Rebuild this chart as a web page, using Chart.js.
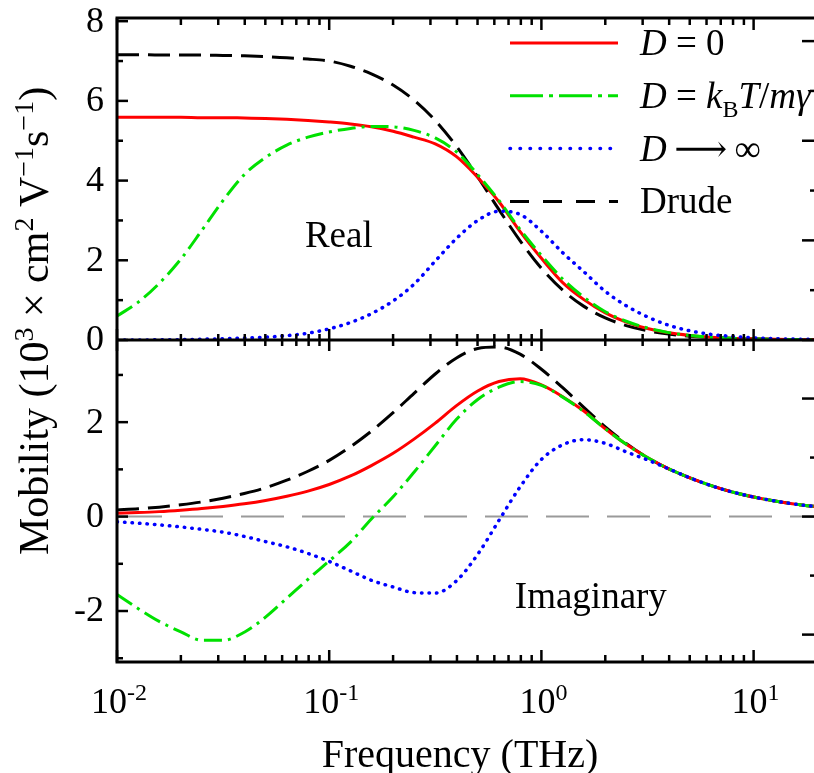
<!DOCTYPE html>
<html>
<head>
<meta charset="utf-8">
<title>Mobility spectra</title>
<script src="https://cdn.jsdelivr.net/npm/chart.js@4.4.1/dist/chart.umd.min.js"></script>
<style>
  html, body { margin: 0; padding: 0; background: #fff; overflow: hidden; }
  #wrap { width: 814px; height: 773px; overflow: hidden; position: relative; }
  canvas { display: block; }
  .fontwarm { position: absolute; left: -999px; top: 0; font-family: "Liberation Serif", "DejaVu Serif", serif; }
</style>
</head>
<body>
<div id="wrap"><canvas id="mobChart" width="832" height="773"></canvas></div>
<span class="fontwarm">Mobility <i>D</i> ⟶ ∞ γ</span>
<script>
// frequency grid (THz)
const freq = [0.01, 0.0126, 0.0158, 0.02, 0.0251, 0.0316, 0.0398, 0.0501, 0.0631, 0.0794,
  0.1, 0.126, 0.158, 0.2, 0.251, 0.316, 0.398, 0.501, 0.631, 0.794,
  1, 1.26, 1.58, 2, 2.51, 3.16, 3.98, 5.01, 6.31, 7.94,
  10, 12.6, 15.8, 20];

// real part (10^3 cm^2/Vs)
const realD0 = [5.59, 5.59, 5.59, 5.59, 5.58, 5.58, 5.57, 5.56, 5.54, 5.51,
  5.47, 5.42, 5.35, 5.24, 5.09, 4.92, 4.60, 4.08, 3.47, 2.72,
  2.05, 1.44, 1.02, 0.68, 0.45, 0.29, 0.18, 0.115, 0.072, 0.045,
  0.029, 0.018, 0.012, 0.007];
const realDk = [0.60, 0.95, 1.42, 2.03, 2.75, 3.50, 4.15, 4.58, 4.89, 5.09,
  5.22, 5.31, 5.36, 5.35, 5.26, 5.07, 4.72, 4.15, 3.50, 2.77,
  2.12, 1.53, 1.08, 0.71, 0.47, 0.30, 0.185, 0.115, 0.072, 0.045,
  0.029, 0.018, 0.012, 0.007];
const realInf = [0.0, 0.0, 0.005, 0.01, 0.02, 0.03, 0.05, 0.07, 0.11, 0.17,
  0.28, 0.44, 0.66, 0.98, 1.40, 1.98, 2.55, 3.00, 3.23, 3.15,
  2.73, 2.19, 1.72, 1.22, 0.86, 0.58, 0.37, 0.23, 0.14, 0.09,
  0.055, 0.035, 0.022, 0.014];
const realDrude = [7.16, 7.16, 7.15, 7.15, 7.15, 7.14, 7.13, 7.11, 7.08, 7.05,
  7.00, 6.87, 6.68, 6.40, 6.02, 5.51, 4.86, 4.09, 3.27, 2.49,
  1.80, 1.25, 0.85, 0.555, 0.362, 0.233, 0.149, 0.095, 0.060, 0.038,
  0.024, 0.015, 0.0096, 0.006];

// imaginary part
const imagD0 = [0.07, 0.085, 0.105, 0.135, 0.17, 0.215, 0.27, 0.34, 0.43, 0.54,
  0.68, 0.86, 1.08, 1.34, 1.64, 1.98, 2.35, 2.66, 2.86, 2.92,
  2.79, 2.54, 2.24, 1.86, 1.53, 1.25, 1.01, 0.82, 0.655, 0.52,
  0.415, 0.33, 0.262, 0.207];
const imagDk = [-1.65, -1.95, -2.22, -2.44, -2.62, -2.62, -2.45, -2.13, -1.73, -1.33,
  -0.94, -0.54, -0.05, 0.42, 0.94, 1.50, 2.06, 2.48, 2.74, 2.86,
  2.78, 2.53, 2.23, 1.86, 1.53, 1.25, 1.01, 0.82, 0.655, 0.52,
  0.415, 0.33, 0.262, 0.207];
const imagInf = [-0.11, -0.14, -0.175, -0.22, -0.27, -0.33, -0.42, -0.53, -0.64, -0.78,
  -0.95, -1.15, -1.35, -1.49, -1.61, -1.62, -1.36, -0.80, -0.08, 0.63,
  1.21, 1.52, 1.63, 1.55, 1.37, 1.20, 1.01, 0.82, 0.655, 0.52,
  0.415, 0.33, 0.262, 0.207];
const imagDrude = [0.14, 0.165, 0.2, 0.25, 0.31, 0.39, 0.49, 0.61, 0.77, 0.96,
  1.19, 1.48, 1.81, 2.20, 2.61, 3.02, 3.36, 3.56, 3.59, 3.44,
  3.12, 2.73, 2.32, 1.90, 1.55, 1.25, 1.01, 0.82, 0.655, 0.52,
  0.415, 0.33, 0.262, 0.207];

// axis ticks and labels
const decades = [0.01, 0.1, 1, 10];
const decadeExp = ['-2', '-1', '0', '1'];
const realTicks = [0, 2, 4, 6, 8];
const imagTicks = [-2, 0, 2];

const SERIF = '"Liberation Serif", "DejaVu Serif", serif';

const styles = {
  red:   { color: 'rgb(255,0,0)',  width: 3,   dash: [],            cap: 'butt',  legendDash: [] },
  green: { color: 'rgb(0,225,0)',  width: 3,   dash: [18, 6, 3, 6], cap: 'butt',  legendDash: [33, 6, 4, 6] },
  blue:  { color: 'rgb(0,0,255)',  width: 3.5, dash: [0.5, 7],      cap: 'round', legendDash: [0.5, 9.5] },
  black: { color: 'rgb(0,0,0)',    width: 3,   dash: [22, 9],       cap: 'butt',  legendDash: [19, 14] }
};

function pts(ys) {
  return freq.map((f, i) => ({ x: f, y: ys[i] }));
}

function line(label, ys, axis, st) {
  return {
    label: label,
    data: pts(ys),
    yAxisID: axis,
    borderColor: st.color,
    borderWidth: st.width,
    borderDash: st.dash,
    borderCapStyle: st.cap,
    pointRadius: 0,
    cubicInterpolationMode: 'monotone',
    fill: false
  };
}

// draws a run of text pieces: [text, kind] with kind r / i / sup / sub
function drawRich(ctx, parts, x, y, size, align) {
  const fontFor = (k) => {
    const small = (k === 'sup' || k === 'sub');
    return (k === 'i' ? 'italic ' : '') + (small ? Math.round(size * 0.66) : size) + 'px ' + SERIF;
  };
  let w = 0;
  parts.forEach(([t, k]) => { ctx.font = fontFor(k); w += ctx.measureText(t).width; });
  let cx = align === 'center' ? x - w / 2 : (align === 'right' ? x - w : x);
  ctx.textAlign = 'left';
  ctx.textBaseline = 'alphabetic';
  parts.forEach(([t, k]) => {
    ctx.font = fontFor(k);
    const dy = k === 'sup' ? -size * 0.36 : (k === 'sub' ? size * 0.26 : 0);
    ctx.fillText(t, cx, y + dy);
    cx += ctx.measureText(t).width;
  });
}

const legendRows = [
  { st: styles.red,   parts: [['D', 'i'], [' = ', 'r'], ['0', 'r']] },
  { st: styles.green, parts: [['D', 'i'], [' = ', 'r'], ['k', 'i'], ['B', 'sub'], ['T', 'i'], ['/', 'r'], ['m', 'i'], ['γ', 'i']] },
  { st: styles.blue,  parts: [['D', 'i'], ['\u2009⟶\u2009', 'r'], ['∞', 'r']] },
  { st: styles.black, parts: [['Drude', 'r']] }
];

const panelFrame = {
  id: 'panelFrame',
  beforeDatasetsDraw(chart) {
    const { ctx, chartArea: a } = chart;
    const y0 = chart.scales.yBot.getPixelForValue(0);
    ctx.save();
    ctx.strokeStyle = '#9a9a9a';
    ctx.lineWidth = 2;
    ctx.setLineDash([43, 18]);
    ctx.beginPath();
    ctx.moveTo(a.left + 2, y0);
    ctx.lineTo(a.right, y0);
    ctx.stroke();
    ctx.restore();
  },
  afterDraw(chart) {
    const { ctx, chartArea: a } = chart;
    const xs = chart.scales.x, yt = chart.scales.yTop, yb = chart.scales.yBot;
    const mid = yt.bottom;
    const seg = (x1, y1, x2, y2) => { ctx.beginPath(); ctx.moveTo(x1, y1); ctx.lineTo(x2, y2); ctx.stroke(); };

    ctx.save();
    ctx.strokeStyle = '#000';
    ctx.fillStyle = '#000';
    ctx.lineCap = 'butt';

    // frame of both panels
    ctx.lineWidth = 3;
    ctx.strokeRect(a.left, a.top, a.right - a.left, a.bottom - a.top);
    seg(a.left, mid, a.right, mid);

    // log ticks along x: top, shared middle, bottom
    ctx.lineWidth = 2.5;
    decades.forEach((d) => {
      for (let k = 1; k <= 9; k++) {
        const v = d * k;
        if (v < xs.min || v > xs.max) continue;
        const px = xs.getPixelForValue(v);
        const len = k === 1 ? 12 : 7;
        seg(px, a.top, px, a.top + len);
        seg(px, mid - len + 1, px, mid + len - 1);
        seg(px, a.bottom, px, a.bottom - len);
      }
    });

    // y ticks, left side (inward)
    for (let v = 0; v <= 8; v++) {
      const py = yt.getPixelForValue(v);
      seg(a.left, py, a.left + (v % 2 === 0 ? 11 : 6), py);
    }
    for (let v = -3; v <= 3; v++) {
      const py = yb.getPixelForValue(v);
      seg(a.left, py, a.left + (v % 2 === 0 ? 11 : 6), py);
    }
    // y ticks, right side (inward)
    for (let k = 0; k <= 6; k++) {
      const py = yt.getPixelForValue(k * 1.25);
      seg(a.right, py, a.right - (k % 2 === 0 ? 14 : 6), py);
    }
    for (let k = -2; k <= 2; k++) {
      const py = yb.getPixelForValue(k * 1.25);
      seg(a.right, py, a.right - (k % 2 === 0 ? 14 : 6), py);
    }

    // y tick labels
    ctx.font = '36px ' + SERIF;
    ctx.textAlign = 'right';
    ctx.textBaseline = 'middle';
    realTicks.forEach((v) => ctx.fillText(String(v), a.left - 13, yt.getPixelForValue(v) + 1));
    imagTicks.forEach((v) => ctx.fillText(String(v), a.left - 13, yb.getPixelForValue(v) + 1));

    // x tick labels 10^n
    decades.forEach((d, i) => {
      drawRich(ctx, [['10', 'r'], [decadeExp[i], 'sup']], xs.getPixelForValue(d) + 2, a.bottom + 51, 36, 'center');
    });

    // axis titles
    drawRich(ctx, [['Frequency (THz)', 'r']], a.left + 343, 767, 40, 'center');
    ctx.save();
    ctx.translate(48, 321);
    ctx.rotate(-Math.PI / 2);
    drawRich(ctx, [['Mobility (10', 'r'], ['3', 'sup'], [' × cm', 'r'], ['2', 'sup'], [' V', 'r'],
      ['−1', 'sup'], ['s', 'r'], ['−1', 'sup'], [')', 'r']], 0, 0, 42, 'center');
    ctx.restore();

    // panel captions
    drawRich(ctx, [['Real', 'r']], xs.getPixelForValue(0.111), yt.getPixelForValue(2.33), 37, 'center');
    drawRich(ctx, [['Imaginary', 'r']], xs.getPixelForValue(1.71), yb.getPixelForValue(-1.94), 37, 'center');

    // legend
    legendRows.forEach((row, i) => {
      const ry = 43 + i * 52.8;
      ctx.save();
      ctx.strokeStyle = row.st.color;
      ctx.lineWidth = row.st.width;
      ctx.lineCap = row.st.cap;
      ctx.setLineDash(row.st.legendDash);
      seg(510, ry, 618, ry);
      ctx.restore();
      ctx.fillStyle = '#000';
      drawRich(ctx, row.parts, 640, ry + 12, 37, 'left');
    });

    ctx.restore();
  }
};

function build() {
  return new Chart(document.getElementById('mobChart'), {
    type: 'line',
    data: {
      datasets: [
        line('D → ∞ (real)', realInf, 'yTop', styles.blue),
        line('D = kBT/mγ (real)', realDk, 'yTop', styles.green),
        line('D = 0 (real)', realD0, 'yTop', styles.red),
        line('Drude (real)', realDrude, 'yTop', styles.black),
        line('D → ∞ (imag)', imagInf, 'yBot', styles.blue),
        line('D = kBT/mγ (imag)', imagDk, 'yBot', styles.green),
        line('D = 0 (imag)', imagD0, 'yBot', styles.red),
        line('Drude (imag)', imagDrude, 'yBot', styles.black)
      ]
    },
    options: {
      responsive: false,
      animation: false,
      devicePixelRatio: 1,
      layout: { padding: { left: 117, right: 16, top: 18, bottom: 111 } },
      plugins: {
        legend: { display: false },
        tooltip: { enabled: false }
      },
      scales: {
        x: { type: 'logarithmic', min: 0.01, max: 19.68, display: false },
        yBot: { type: 'linear', position: 'left', min: -3.08, max: 3.74, display: false,
                stack: 'panels', stackWeight: 1, weight: 1 },
        yTop: { type: 'linear', position: 'left', min: 0, max: 8.08, display: false,
                stack: 'panels', stackWeight: 1, weight: 2 }
      }
    },
    plugins: [panelFrame]
  });
}

// make sure the serif face is ready before the canvas text is drawn
Promise.all([
  document.fonts.load('36px "Liberation Serif"'),
  document.fonts.load('italic 36px "Liberation Serif"')
]).catch(() => {}).then(build);
</script>
</body>
</html>
